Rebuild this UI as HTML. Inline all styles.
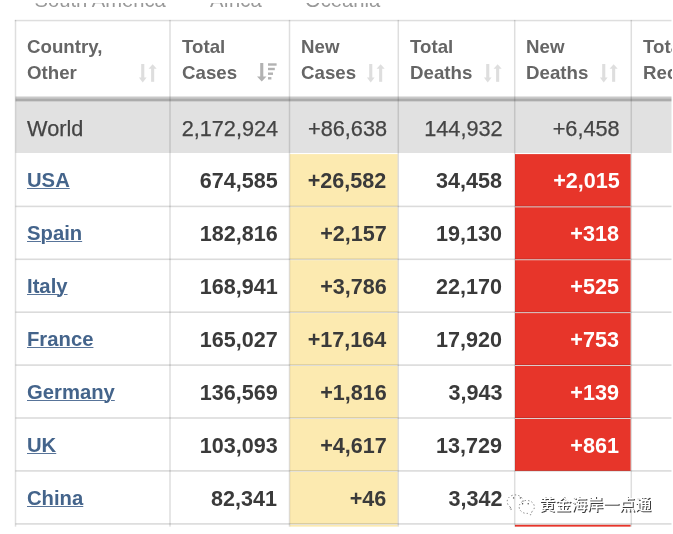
<!DOCTYPE html>
<html><head><meta charset="utf-8"><title>table</title>
<style>
html,body{margin:0;padding:0;background:#fff;}
body{width:673px;height:534px;overflow:hidden;position:relative;font-family:"Liberation Sans",sans-serif;}
#c{position:absolute;left:0;top:0;width:673px;height:534px;overflow:hidden;background:#fff;filter:blur(0.7px);}
.b{position:absolute;}
.t{position:absolute;white-space:nowrap;line-height:1;}
.t span{display:inline-block;}
.h{font-weight:bold;font-size:18.5px;color:#666;}
.w{font-size:21.7px;color:#444;-webkit-text-stroke:0.25px #444;}
.n{font-weight:bold;font-size:22.6px;color:#3a3a3a;}
.c{font-weight:bold;font-size:21.1px;color:#44648b;}
.c span{text-decoration:underline;text-decoration-thickness:1.15px;text-underline-offset:1.2px;text-decoration-color:#587499;}
.L span{transform-origin:left center;}
.R span{transform-origin:right center;}
.h span{transform:scaleX(1.01);}
.w span{transform:scaleX(1.0);}
.n span{transform:scaleX(0.955);}
.c span{transform:scaleX(0.96);}
</style></head><body><div id="c">

<svg class="b" style="left:0;top:0" width="673" height="534" viewBox="0 0 673 534" shape-rendering="geometricPrecision">
<rect x="15.50" y="101.50" width="657.50" height="51.50" fill="#e1e1e1"/>
<rect x="15.50" y="96.50" width="657.50" height="2.40" fill="#c9c9c9"/>
<rect x="15.50" y="98.60" width="657.50" height="2.90" fill="#ababab"/>
<rect x="289.80" y="154.10" width="107.80" height="52.30" fill="#fceab0"/>
<rect x="515.00" y="154.10" width="115.60" height="52.30" fill="#e7352a"/>
<rect x="289.80" y="207.30" width="107.80" height="52.00" fill="#fceab0"/>
<rect x="515.00" y="207.30" width="115.60" height="52.00" fill="#e7352a"/>
<rect x="289.80" y="260.20" width="107.80" height="52.00" fill="#fceab0"/>
<rect x="515.00" y="260.20" width="115.60" height="52.00" fill="#e7352a"/>
<rect x="289.80" y="313.10" width="107.80" height="52.00" fill="#fceab0"/>
<rect x="515.00" y="313.10" width="115.60" height="52.00" fill="#e7352a"/>
<rect x="289.80" y="366.00" width="107.80" height="52.00" fill="#fceab0"/>
<rect x="515.00" y="366.00" width="115.60" height="52.00" fill="#e7352a"/>
<rect x="289.80" y="418.90" width="107.80" height="52.00" fill="#fceab0"/>
<rect x="515.00" y="418.90" width="115.60" height="52.00" fill="#e7352a"/>
<rect x="289.80" y="471.80" width="107.80" height="52.10" fill="#fceab0"/>
<rect x="289.80" y="524.80" width="107.80" height="2.00" fill="#fceab0"/>
<rect x="515.00" y="524.80" width="115.60" height="2.00" fill="#e7352a"/>
<rect x="14.80" y="19.80" width="657.50" height="1.50" fill="#dedede"/>
<rect x="15.50" y="205.60" width="657.50" height="1.60" fill="#dbdbdb" style="mix-blend-mode:multiply;"/>
<rect x="15.50" y="258.50" width="657.50" height="1.60" fill="#dbdbdb" style="mix-blend-mode:multiply;"/>
<rect x="15.50" y="311.40" width="657.50" height="1.60" fill="#dbdbdb" style="mix-blend-mode:multiply;"/>
<rect x="15.50" y="364.30" width="657.50" height="1.60" fill="#dbdbdb" style="mix-blend-mode:multiply;"/>
<rect x="15.50" y="417.20" width="657.50" height="1.60" fill="#dbdbdb" style="mix-blend-mode:multiply;"/>
<rect x="15.50" y="470.10" width="657.50" height="1.60" fill="#dbdbdb" style="mix-blend-mode:multiply;"/>
<rect x="15.50" y="523.10" width="657.50" height="1.60" fill="#dbdbdb" style="mix-blend-mode:multiply;"/>
<rect x="14.75" y="19.90" width="1.50" height="506.90" fill="#dedede" style="mix-blend-mode:multiply;"/>
<rect x="169.25" y="19.90" width="1.50" height="506.90" fill="#dedede" style="mix-blend-mode:multiply;"/>
<rect x="288.75" y="19.90" width="1.50" height="506.90" fill="#dedede" style="mix-blend-mode:multiply;"/>
<rect x="397.55" y="19.90" width="1.50" height="506.90" fill="#dedede" style="mix-blend-mode:multiply;"/>
<rect x="513.95" y="19.90" width="1.50" height="506.90" fill="#dedede" style="mix-blend-mode:multiply;"/>
<rect x="630.55" y="19.90" width="1.50" height="506.90" fill="#dedede" style="mix-blend-mode:multiply;"/>
<rect x="0.00" y="526.80" width="673.00" height="7.20" fill="#fff"/>
<rect x="671.50" y="0.00" width="2.00" height="534.00" fill="#fff"/>
</svg>
<div class="t L" style="left:34.5px;top:-9.8px;font-size:20.2px;color:#999;"><span>South America</span></div>
<div class="t L" style="left:210.0px;top:-9.8px;font-size:20.2px;color:#999;"><span>Africa</span></div>
<div class="t L" style="left:305.0px;top:-9.8px;font-size:20.2px;color:#999;"><span>Oceania</span></div>
<div class="t h L" style="left:27.1px;top:37.5px"><span>Country,</span></div>
<div class="t h L" style="left:27.1px;top:63.7px"><span>Other</span></div>
<svg class="b" style="left:138.0px;top:63.9px" width="22" height="20" viewBox="0 0 22 20"><g fill="#dedede"><rect x="3.2" y="0" width="3.1" height="14.5"/><path d="M0.9 13.6H8.6L4.75 18.4Z"/><rect x="13.1" y="4" width="3.1" height="13.8"/><path d="M10.6 4.8H18.7L14.65 0.2Z"/></g></svg>
<div class="t h L" style="left:181.6px;top:37.5px"><span>Total</span></div>
<div class="t h L" style="left:181.6px;top:63.7px"><span>Cases</span></div>
<svg class="b" style="left:257.2px;top:63.4px" width="22" height="20" viewBox="0 0 22 20"><g fill="#b2b2b2"><rect x="3.2" y="0" width="3.1" height="14.5"/><path d="M0 13.6H9.5L4.75 18.4Z"/><rect x="11" y="0.3" width="8.6" height="2.4"/><rect x="11" y="4.8" width="6.8" height="2.4"/><rect x="11" y="9.5" width="5.0" height="2.4"/><rect x="11" y="14.1" width="3.4" height="2.4"/></g></svg>
<div class="t h L" style="left:301.1px;top:37.5px"><span>New</span></div>
<div class="t h L" style="left:301.1px;top:63.7px"><span>Cases</span></div>
<svg class="b" style="left:366.3px;top:63.9px" width="22" height="20" viewBox="0 0 22 20"><g fill="#dedede"><rect x="3.2" y="0" width="3.1" height="14.5"/><path d="M0.9 13.6H8.6L4.75 18.4Z"/><rect x="13.1" y="4" width="3.1" height="13.8"/><path d="M10.6 4.8H18.7L14.65 0.2Z"/></g></svg>
<div class="t h L" style="left:409.9px;top:37.5px"><span>Total</span></div>
<div class="t h L" style="left:409.9px;top:63.7px"><span>Deaths</span></div>
<svg class="b" style="left:482.7px;top:63.9px" width="22" height="20" viewBox="0 0 22 20"><g fill="#dedede"><rect x="3.2" y="0" width="3.1" height="14.5"/><path d="M0.9 13.6H8.6L4.75 18.4Z"/><rect x="13.1" y="4" width="3.1" height="13.8"/><path d="M10.6 4.8H18.7L14.65 0.2Z"/></g></svg>
<div class="t h L" style="left:526.3px;top:37.5px"><span>New</span></div>
<div class="t h L" style="left:526.3px;top:63.7px"><span>Deaths</span></div>
<svg class="b" style="left:599.3px;top:63.9px" width="22" height="20" viewBox="0 0 22 20"><g fill="#dedede"><rect x="3.2" y="0" width="3.1" height="14.5"/><path d="M0.9 13.6H8.6L4.75 18.4Z"/><rect x="13.1" y="4" width="3.1" height="13.8"/><path d="M10.6 4.8H18.7L14.65 0.2Z"/></g></svg>
<div class="t h L" style="left:642.9px;top:37.5px"><span>Total</span></div>
<div class="t h L" style="left:642.9px;top:63.7px"><span>Recovered</span></div>
<div class="t w L" style="left:27.1px;top:117.8px"><span>World</span></div>
<div class="t w R" style="right:394.9px;top:117.8px"><span>2,172,924</span></div>
<div class="t w R" style="right:286.0px;top:117.8px"><span>+86,638</span></div>
<div class="t w R" style="right:170.4px;top:117.8px"><span>144,932</span></div>
<div class="t w R" style="right:53.4px;top:117.8px"><span>+6,458</span></div>
<div class="t c L" style="left:26.7px;top:169.1px"><span>USA</span></div>
<div class="t n R" style="right:395.5px;top:170.1px;"><span>674,585</span></div>
<div class="t n R" style="right:286.6px;top:170.1px;"><span>+26,582</span></div>
<div class="t n R" style="right:170.5px;top:170.1px;"><span>34,458</span></div>
<div class="t n R" style="right:53.7px;top:170.1px;color:#fff;"><span>+2,015</span></div>
<div class="t c L" style="left:26.7px;top:222.1px"><span>Spain</span></div>
<div class="t n R" style="right:395.5px;top:223.1px;"><span>182,816</span></div>
<div class="t n R" style="right:286.6px;top:223.1px;"><span>+2,157</span></div>
<div class="t n R" style="right:170.5px;top:223.1px;"><span>19,130</span></div>
<div class="t n R" style="right:53.7px;top:223.1px;color:#fff;"><span>+318</span></div>
<div class="t c L" style="left:26.7px;top:275.0px"><span>Italy</span></div>
<div class="t n R" style="right:395.5px;top:276.1px;"><span>168,941</span></div>
<div class="t n R" style="right:286.6px;top:276.1px;"><span>+3,786</span></div>
<div class="t n R" style="right:170.5px;top:276.1px;"><span>22,170</span></div>
<div class="t n R" style="right:53.7px;top:276.1px;color:#fff;"><span>+525</span></div>
<div class="t c L" style="left:26.7px;top:327.9px"><span>France</span></div>
<div class="t n R" style="right:395.5px;top:329.1px;"><span>165,027</span></div>
<div class="t n R" style="right:286.6px;top:329.1px;"><span>+17,164</span></div>
<div class="t n R" style="right:170.5px;top:329.1px;"><span>17,920</span></div>
<div class="t n R" style="right:53.7px;top:329.1px;color:#fff;"><span>+753</span></div>
<div class="t c L" style="left:26.7px;top:380.9px"><span>Germany</span></div>
<div class="t n R" style="right:395.5px;top:382.1px;"><span>136,569</span></div>
<div class="t n R" style="right:286.6px;top:382.1px;"><span>+1,816</span></div>
<div class="t n R" style="right:170.5px;top:382.1px;"><span>3,943</span></div>
<div class="t n R" style="right:53.7px;top:382.1px;color:#fff;"><span>+139</span></div>
<div class="t c L" style="left:26.7px;top:433.8px"><span>UK</span></div>
<div class="t n R" style="right:395.5px;top:435.1px;"><span>103,093</span></div>
<div class="t n R" style="right:286.6px;top:435.1px;"><span>+4,617</span></div>
<div class="t n R" style="right:170.5px;top:435.1px;"><span>13,729</span></div>
<div class="t n R" style="right:53.7px;top:435.1px;color:#fff;"><span>+861</span></div>
<div class="t c L" style="left:26.7px;top:486.7px"><span>China</span></div>
<div class="t n R" style="right:395.5px;top:488.1px;"><span>82,341</span></div>
<div class="t n R" style="right:286.6px;top:488.1px;"><span>+46</span></div>
<div class="t n R" style="right:170.5px;top:488.1px;"><span>3,342</span></div>
<div class="b" style="left:671.6px;top:0;width:3px;height:534px;background:#fff"></div>
<div class="b" style="left:0;top:-2px;width:673px;height:5.4px;background:#fff"></div>
<svg class="b" style="left:0;top:0" width="673" height="534" viewBox="0 0 673 534">
<g fill="none" stroke="#444" stroke-width="0.8" stroke-dasharray="1.3 2.2" opacity="0.85"><path d="M510.5 507.2A8 6.8 0 1 1 523 503.2"/><path d="M510.5 507.2L509.8 509.8L513.2 508.6"/><path d="M531.8 511.8A7.6 6.5 0 1 0 527.5 513.4L530.8 514.9Z"/></g><g fill="#444"><circle cx="513.6" cy="497.9" r="0.7"/><circle cx="520.4" cy="497.9" r="0.7"/><circle cx="522.6" cy="503.8" r="0.7"/><circle cx="528.2" cy="503.8" r="0.7"/></g>
<g transform="translate(539.30 510.40) scale(1.0 1)"><text x="0.85" y="0.8" font-size="16" font-weight="500" fill="#3c3c3c" font-family="'Liberation Sans','Noto Sans CJK SC',sans-serif">黄金海岸一点通</text><text x="0" y="0" font-size="16" font-weight="500" fill="#fff" font-family="'Liberation Sans','Noto Sans CJK SC',sans-serif">黄金海岸一点通</text></g>
</svg>
</div></body></html>
